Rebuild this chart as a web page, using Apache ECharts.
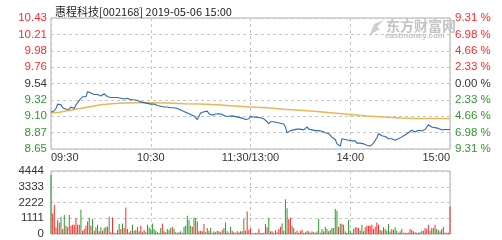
<!DOCTYPE html>
<html><head><meta charset="utf-8">
<script src="https://cdn.jsdelivr.net/npm/echarts@6/dist/echarts.min.js"></script>
<style>html,body{margin:0;padding:0;background:#fff}#c{width:502px;height:240px}</style>
</head><body><div id="c"></div>
<script>
const titleText = '惠程科技[002168] 2019-05-06 15:00';
const timeTicks = ['09:30', '10:30', '11:30/13:00', '14:00', '15:00'];
const priceMin = 8.65, priceMax = 10.43;
const priceTicks = ['8.65', '8.87', '9.10', '9.32', '9.54', '9.76', '9.98', '10.21', '10.43'];
const pctTicks = ['9.31 %', '6.98 %', '4.66 %', '2.33 %', '0.00 %', '2.33 %', '4.66 %', '6.98 %', '9.31 %'];
const volTicks = ['0', '1111', '2222', '3333', '4444'];

// minute price, index = minutes since 09:30 (lunch removed), 241 points
const price = [
9.15,9.13,9.17,9.20,9.26,9.25,9.25,9.21,9.23,9.19,
9.20,9.19,9.22,9.21,9.20,9.25,9.28,9.31,9.33,9.36,
9.38,9.36,9.43,9.45,9.41,9.40,9.39,9.38,9.39,9.40,
9.37,9.38,9.40,9.38,9.36,9.34,9.35,9.37,9.35,9.34,
9.35,9.35,9.34,9.325,9.33,9.34,9.34,9.33,9.32,9.31,
9.32,9.33,9.31,9.29,9.29,9.28,9.28,9.27,9.27,9.27,
9.26,9.25,9.26,9.26,9.24,9.22,9.23,9.23,9.22,9.215,
9.22,9.22,9.21,9.20,9.21,9.215,9.20,9.19,9.18,9.17,
9.16,9.155,9.14,9.13,9.12,9.11,9.10,9.09,9.05,9.095,
9.14,9.15,9.155,9.14,9.165,9.13,9.155,9.11,9.12,9.125,
9.13,9.13,9.12,9.12,9.11,9.095,9.10,9.095,9.095,9.10,
9.09,9.09,9.085,9.08,9.08,9.07,9.06,9.05,9.04,9.06,
9.09,9.09,9.085,9.08,9.08,9.08,9.075,9.07,9.06,9.04,
9.02,8.99,9.02,9.02,9.02,9.015,9.01,9.00,9.00,8.99,
8.99,8.95,8.87,8.88,8.90,8.915,8.91,8.905,8.92,8.94,
8.92,8.905,8.91,8.93,8.95,8.92,8.905,8.91,8.915,8.90,
8.895,8.90,8.905,8.89,8.88,8.87,8.865,8.86,8.84,8.81,
8.80,8.78,8.72,8.70,8.69,8.79,8.80,8.78,8.78,8.77,
8.77,8.76,8.77,8.76,8.73,8.72,8.73,8.73,8.72,8.71,
8.70,8.69,8.69,8.70,8.73,8.77,8.80,8.86,8.85,8.83,
8.815,8.82,8.80,8.79,8.80,8.79,8.78,8.77,8.78,8.79,
8.80,8.815,8.82,8.84,8.85,8.87,8.89,8.905,8.89,8.88,
8.89,8.905,8.90,8.895,8.90,8.915,8.94,8.98,8.96,8.95,
8.93,8.94,8.95,8.93,8.905,8.91,8.915,8.915,8.915,8.915,
8.915
];

// average price line, read at [minute, value]
const avgPrice = [
[0,9.14],[5,9.15],[10,9.17],[15,9.19],[20,9.21],[25,9.23],[30,9.25],[35,9.26],
[40,9.27],[45,9.275],[50,9.28],[60,9.28],[70,9.275],[80,9.265],[90,9.26],[100,9.25],
[110,9.235],[120,9.22],[130,9.21],[140,9.19],[150,9.175],[160,9.16],[170,9.14],
[180,9.12],[190,9.10],[200,9.085],[210,9.07],[220,9.065],[230,9.065],[240,9.065]
];

// minute volume
const volume = [
4165,1451,2059,468,983,819,1217,351,1334,585,
468,1334,585,655,655,1123,655,655,1708,234,
351,585,889,1170,585,1053,234,468,655,187,
468,234,421,515,515,1217,117,1170,94,47,
281,702,351,749,421,1872,351,117,234,655,
234,281,515,187,585,117,281,117,655,468,
351,749,351,234,117,94,421,749,187,117,
351,281,421,515,351,117,94,117,187,94,
515,585,1287,983,585,515,1170,1123,889,187,
234,187,702,117,421,234,421,94,187,117,
234,187,117,281,421,819,187,94,515,234,
117,94,187,117,187,187,1053,234,1591,300,
398,47,47,70,94,351,70,70,94,702,
468,1123,187,187,94,281,117,351,515,749,
234,2457,1825,1053,1170,585,421,117,234,94,
234,281,94,117,234,187,94,187,117,94,
187,1053,94,351,187,515,351,187,281,421,
421,1755,1638,515,749,702,655,187,94,983,
234,94,351,468,468,421,234,655,187,468,
585,585,585,655,351,515,819,655,281,234,
468,351,234,702,187,351,281,468,234,94,
187,351,94,94,94,94,351,281,187,117,
94,94,117,234,234,421,351,655,234,421,
421,655,351,281,187,351,515,94,94,94,
1942
];
// r = up minute, g = down minute
const volDir = (
'grrrrrgrgr' + 'rgrrrrrrgr' + 'rrrgrgrggr' + 'grgrggrrrr' + 'ggrgrrggrg' +
'rggrrrrggg' + 'ggggrrgrrr' + 'gggrgrrggr' + 'gggggrggrr' + 'rrrrgrgrgr' +
'rrgrggrrgr' + 'rrgrgrggrr' + 'rgggrrrggr' + 'rgrrgrrrrg' + 'rggrrgrrrr' +
'rrrggrrrgr' + 'rgrgrggrgg' + 'gggrgrrgrg' + 'grggrrggrg' + 'rrrrrrrrgr' +
'rrggrrrggr' + 'grrrrrrrgg' + 'rrgggrrrgg' + 'grggrgrrrr' + 'r').split('');

const RED = '#ff2a2a', GREEN = '#2e9a2e', DARK = '#333';
const FONT = 'Liberation Sans';
const gridBorder = '#b0b0b0';
const dash = {color: '#c6c6c6', type: [3, 3], width: 1};

const chart = echarts.init(document.getElementById('c'), null, {renderer: 'canvas'});
const lvlColor = (i) => i > 4 ? RED : (i === 4 ? DARK : GREEN);

chart.setOption({
  animation: false,
  title: {text: titleText, left: 50, top: 1,
    textStyle: {fontSize: 11, fontWeight: 'normal', color: '#222', fontFamily: 'Noto Sans CJK SC'}},
  graphic: [
    {type: 'text', left: 386, top: 19, style: {text: '东方财富网', fill: '#c4c4c4', font: 'bold 14px "Noto Sans CJK SC"'}},
    {type: 'text', left: 385, top: 32, style: {text: 'eastmoney.com', fill: '#c4c4c4', font: 'bold 8px "Liberation Sans"'}},
    {type: 'polygon', shape: {points: [[369,37],[374,24],[384,20],[377,27],[380,29],[373,33]]}, style: {fill: '#cfcfcf'}}
  ],
  grid: [
    {left: 51, top: 18, width: 399, height: 131, show: true, borderColor: gridBorder, borderWidth: 1},
    {left: 51, top: 171, width: 399, height: 63, show: true, borderColor: gridBorder, borderWidth: 1}
  ],
  xAxis: [
    {type: 'value', gridIndex: 0, min: 0, max: 240, interval: 60,
      axisLine: {show: false}, axisTick: {show: false},
      axisLabel: {margin: 3, color: DARK, fontSize: 11, fontFamily: FONT,
        alignMinLabel: 'left', alignMaxLabel: 'right',
        formatter: (v) => timeTicks[Math.round(v / 60)]},
      splitLine: {show: true, lineStyle: dash}},
    {type: 'value', gridIndex: 1, min: 0, max: 240, interval: 60,
      axisLine: {show: false}, axisTick: {show: false}, axisLabel: {show: false},
      splitLine: {show: true, lineStyle: dash}}
  ],
  yAxis: [
    {type: 'value', gridIndex: 0, min: priceMin, max: priceMax, show: false, splitLine: {show: false}},
    {type: 'value', gridIndex: 0, min: 0, max: 8, interval: 1, position: 'left',
      axisLine: {show: false}, axisTick: {show: false},
      axisLabel: {margin: 4, fontSize: 11.5, fontFamily: FONT,
        color: (v, i) => lvlColor(Math.round(v)),
        formatter: (v) => priceTicks[Math.round(v)]},
      splitLine: {show: true, lineStyle: dash}},
    {type: 'value', gridIndex: 0, min: 0, max: 8, interval: 1, position: 'right',
      axisLine: {show: false}, axisTick: {show: false},
      axisLabel: {margin: 5, fontSize: 11.5, fontFamily: FONT,
        color: (v, i) => lvlColor(Math.round(v)),
        formatter: (v) => pctTicks[Math.round(v)]},
      splitLine: {show: false}},
    {type: 'value', gridIndex: 1, min: 0, max: 4444, interval: 1111,
      axisLine: {show: false}, axisTick: {show: false},
      axisLabel: {margin: 7, fontSize: 11.5, fontFamily: FONT, color: DARK,
        formatter: (v) => volTicks[Math.round(v / 1111)]},
      splitLine: {show: true, lineStyle: dash}}
  ],
  series: [
    {type: 'line', xAxisIndex: 0, yAxisIndex: 0, showSymbol: false, symbol: 'none',
      data: avgPrice, lineStyle: {color: '#ebb654', width: 1.5}, z: 3},
    {type: 'line', xAxisIndex: 0, yAxisIndex: 0, showSymbol: false, symbol: 'none',
      data: price.map((p, i) => [i, p]), lineStyle: {color: '#3169b4', width: 1.1}, z: 4},
    {type: 'bar', xAxisIndex: 1, yAxisIndex: 3, barWidth: 1, barGap: '-100%',
      data: volume.map((v, i) => ({value: [i, v], itemStyle: {color: volDir[i] === 'r' ? RED : GREEN}}))}
  ]
});
</script>
</body></html>
